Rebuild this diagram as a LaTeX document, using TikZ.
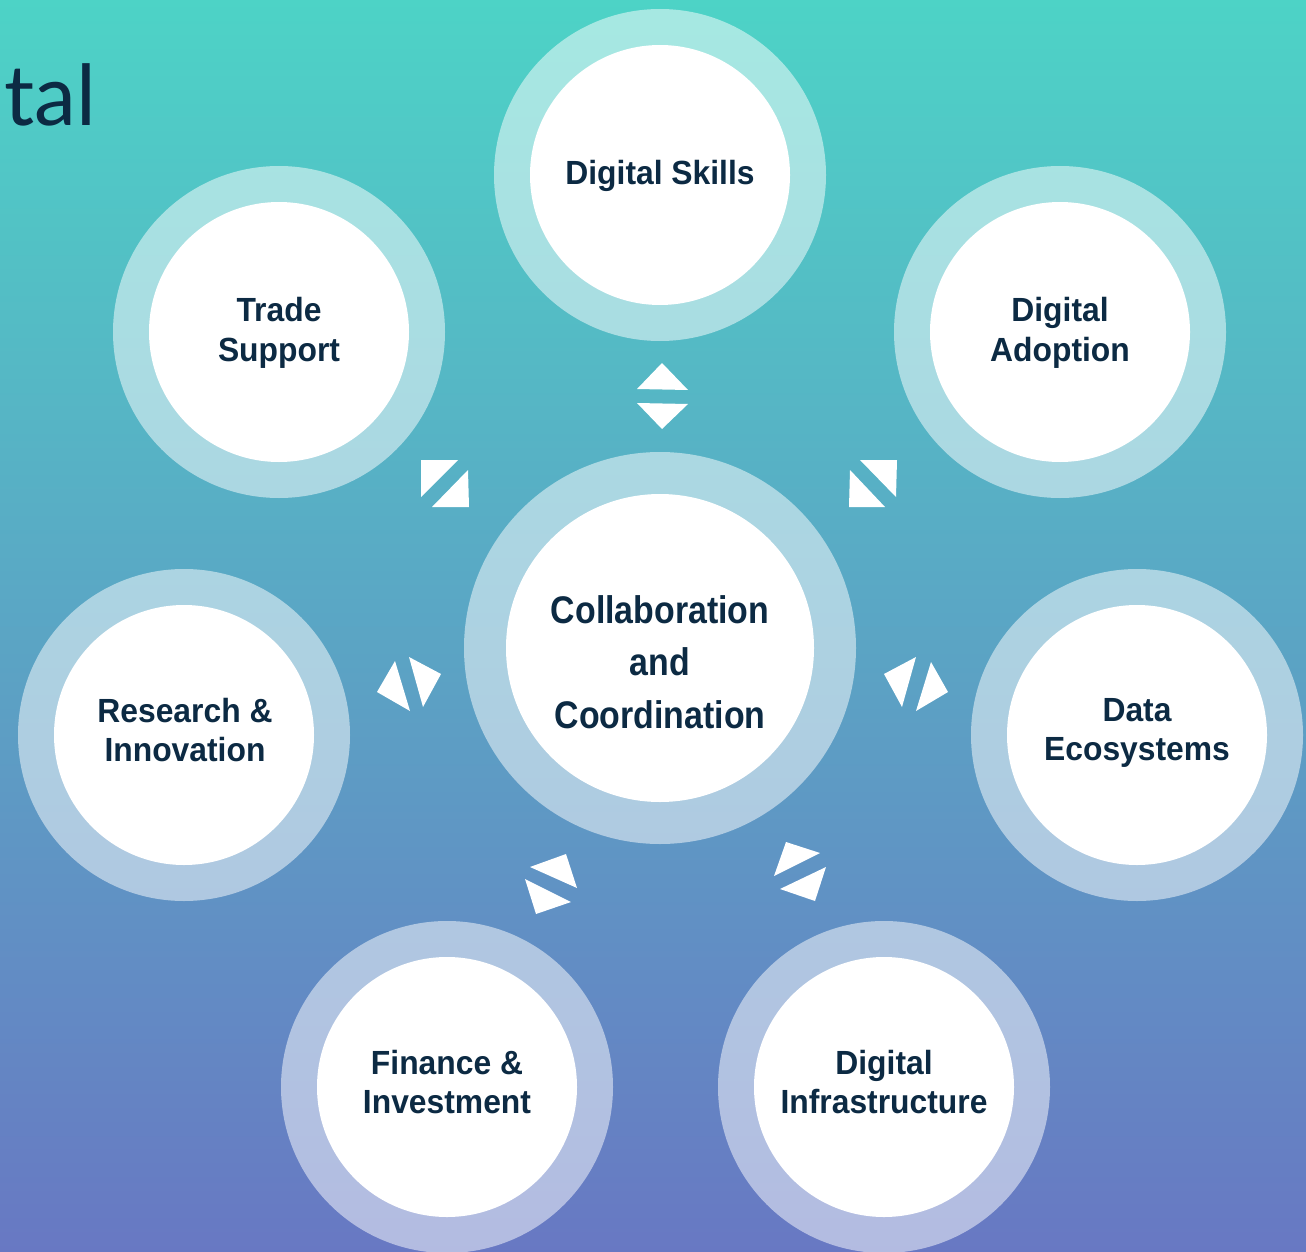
\documentclass[tikz,border=0pt]{standalone}
\usepackage{fontspec}
\newfontfamily\labfont{Liberation Sans}[FakeStretch=0.95]
\newfontfamily\cenfont{Liberation Sans}[FakeStretch=0.88]
\newfontfamily\titlefont{Lato}
\definecolor{bgtop}{HTML}{4DD3C6}
\definecolor{bgbot}{HTML}{6878C3}
\definecolor{navy}{HTML}{0C2A43}
\tikzset{
  halo/.style={circle, inner sep=0pt, fill=white, fill opacity=0.5, minimum size=332pt},
  core/.style={circle, inner sep=0pt, fill=white, minimum size=260pt},
  bighalo/.style={circle, inner sep=0pt, fill=white, fill opacity=0.5, minimum size=392pt},
  bigcore/.style={circle, inner sep=0pt, fill=white, minimum size=308pt},
  lab/.style={text=navy, font=\labfont\bfseries\fontsize{33.5}{39.5}\selectfont,
    align=center, inner sep=0pt, anchor=north},
  cen/.style={text=navy, font=\cenfont\bfseries\fontsize{38.5}{52.5}\selectfont,
    align=center, inner sep=0pt, anchor=north},
  tri/.style={fill=white}
}
\begin{document}
\begin{tikzpicture}[x=1pt,y=-1pt]
\useasboundingbox (0,0) rectangle (1306,1252);
\clip (0,0) rectangle (1306,1252);
\shade[top color=bgtop, bottom color=bgbot] (0,0) rectangle (1306,1252);

% title fragment
\node[text=navy, font=\titlefont\fontsize{84}{90}\selectfont, inner sep=0pt, anchor=base west]
  (title) at (4,125.7) {tal};

% rings (translucent halo + white core)
\node[halo] (skillsR)   at (660,175)  {};
\node[halo] (tradeR)    at (279,332)  {};
\node[halo] (adoptR)    at (1060,332) {};
\node[halo] (researchR) at (184,735)  {};
\node[halo] (dataR)     at (1137,735) {};
\node[halo] (financeR)  at (447,1087) {};
\node[halo] (infraR)    at (884,1087) {};
\node[bighalo] (collabR) at (660,648) {};

\node[core] (skills)   at (skillsR.center)   {};
\node[core] (trade)    at (tradeR.center)    {};
\node[core] (adopt)    at (adoptR.center)    {};
\node[core] (research) at (researchR.center) {};
\node[core] (data)     at (dataR.center)     {};
\node[core] (finance)  at (financeR.center)  {};
\node[core] (infra)    at (infraR.center)    {};
\node[bigcore] (collab) at (collabR.center)  {};

% labels
\node[lab] (skillsT)   at (660,160.5)  {Digital Skills};
\node[lab] (tradeT)    at (279,297.5)  {Trade\\Support};
\node[lab] (adoptT)    at (1060,297.5) {Digital\\Adoption};
\node[lab] (researchT) at (185,698)    {Research \&\\Innovation};
\node[lab] (dataT)     at (1137,698)   {Data\\Ecosystems};
\node[lab] (financeT)  at (447,1050)   {Finance \&\\Investment};
\node[lab] (infraT)    at (884,1050)   {Digital\\Infrastructure};
\node[cen] (collabT)   at (660,595)    {Collaboration\\and\\Coordination};

% paired triangles
% top
\fill[tri] (662,363) -- (637,389) -- (688,390) -- cycle;
\fill[tri] (637,403) -- (688,404) -- (662,429) -- cycle;
% upper left
\fill[tri] (421,460) -- (458,460) -- (421,497) -- cycle;
\fill[tri] (468,470) -- (469,507) -- (432,507) -- cycle;
% upper right
\fill[tri] (860,460) -- (897,460) -- (896,497) -- cycle;
\fill[tri] (850,470) -- (885,507) -- (849,507) -- cycle;
% left
\fill[tri] (395,661) -- (410,711) -- (377,692) -- cycle;
\fill[tri] (409,657) -- (441,674) -- (423,707) -- cycle;
% right
\fill[tri] (916,657) -- (884,674) -- (902,707) -- cycle;
\fill[tri] (931,662) -- (948,692) -- (916,711) -- cycle;
% lower left
\fill[tri] (530,867) -- (566,854) -- (577,888) -- cycle;
\fill[tri] (525,879) -- (571,902) -- (536,914) -- cycle;
% lower right
\fill[tri] (786,842) -- (820,853) -- (774,876) -- cycle;
\fill[tri] (826,867) -- (815,901) -- (780,889) -- cycle;
\end{tikzpicture}
\end{document}
